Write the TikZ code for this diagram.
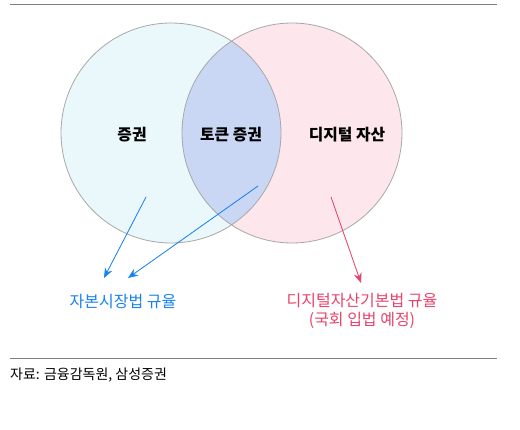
\documentclass[tikz,border=0pt]{standalone}
\usepackage{fontspec}
\setmainfont{Noto Sans CJK KR}
\usetikzlibrary{arrows.meta}
\definecolor{secfill}{HTML}{EAF8FC}
\definecolor{digfill}{HTML}{FDE7EC}
\definecolor{tokfill}{HTML}{C9D7F5}
\definecolor{ringgray}{HTML}{A8A8A8}
\definecolor{rulegray}{HTML}{808080}
\definecolor{lawblue}{HTML}{1A82EE}
\definecolor{lawred}{HTML}{E8436A}
\tikzset{
  >={Stealth[length=10pt,width=8pt]},
  ring/.style={draw=ringgray,line width=0.8pt},
  rul/.style={draw=rulegray,line width=1pt},
  inlbl/.style={font=\fontsize{15.8}{18}\selectfont\bfseries,inner sep=1pt},
  law/.style={font=\fontsize{16}{19}\selectfont,align=center,inner sep=1pt},
  src/.style={font=\fontsize{14}{16}\selectfont,anchor=west,inner sep=0pt},
  barr/.style={->,draw=lawblue,fill=lawblue,line width=0.8pt},
  rarr/.style={->,draw=lawred,fill=lawred,line width=0.8pt},
}
\begin{document}
\begin{tikzpicture}[x=1pt,y=-1pt]
\useasboundingbox (0,0) rectangle (520,430);
\draw[rul] (10,5)--(497,5); \draw[rul] (10,359)--(497,359);
% Venn circles
\fill[secfill] (171,133) circle (110pt); \fill[digfill] (292,133) circle (110pt);
\begin{scope}
\clip (171,133) circle (110pt); \fill[tokfill] (292,133) circle (110pt);
\end{scope}
\draw[ring] (171,133) circle (110pt) (292,133) circle (110pt);
\node[inlbl] (sec) at (132,135){증권}; \node[inlbl] (tok) at (231,135){토큰 증권};
\node[inlbl] (dig) at (347,135){디지털 자산};
\node[law,text=lawblue] (cml) at (123,302){자본시장법 규율};
\node[law,text=lawred,anchor=north] (dal) at (362,292){디지털자산기본법 규율\\(국회 입법 예정)};
\node[src] (note) at (10,375){자료: 금융감독원, 삼성증권};
% arrows
\coordinate (s1) at (146,197); \coordinate (t1) at (104,278);
\coordinate (s2) at (258,186); \coordinate (t2) at (128,278);
\coordinate (s3) at (331,197); \coordinate (t3) at (361,283);
\draw[barr] (s1)--(t1); \draw[barr] (s2)--(t2); \draw[rarr] (s3)--(t3);
\end{tikzpicture}
\end{document}
